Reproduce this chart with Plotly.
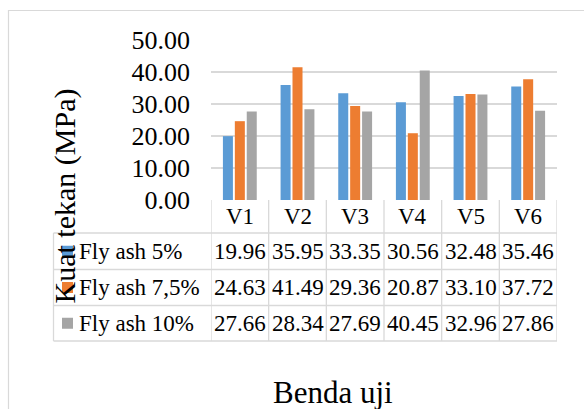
import plotly.graph_objects as go

categories = ["V1", "V2", "V3", "V4", "V5", "V6"]
series_names = ["Fly ash 5%", "Fly ash 7,5%", "Fly ash 10%"]
fly_ash_5 = [19.96, 35.95, 33.35, 30.56, 32.48, 35.46]
fly_ash_75 = [24.63, 41.49, 29.36, 20.87, 33.10, 37.72]
fly_ash_10 = [27.66, 28.34, 27.69, 40.45, 32.96, 27.86]
y_ticks = [0, 10, 20, 30, 40, 50]
colors = ["#5B9BD5", "#ED7D31", "#A5A5A5"]
series_values = [fly_ash_5, fly_ash_75, fly_ash_10]

W, H = 584, 409
ML, MR, MT, MB = 211, 27, 40, 209
PW, PH = W - ML - MR, H - MT - MB
FONT = "Liberation Serif, Times New Roman, serif"
GRID = "#D9D9D9"


def px(x):
    return (x - ML) / PW


def py(y):
    return (H - MB - y) / PH


fig = go.Figure()
for name, vals, c in zip(series_names, series_values, colors):
    fig.add_trace(go.Bar(x=categories, y=vals, name=name, marker_color=c,
                         marker_line_width=0, hoverinfo="skip"))

shapes = []
annotations = []

# outer chart border
shapes.append(dict(type="rect", xref="paper", yref="paper",
                   x0=px(8.5), x1=px(600), y0=py(420), y1=py(10.5),
                   line=dict(color=GRID, width=1.2), fillcolor="rgba(0,0,0,0)",
                   layer="below"))

# table geometry
row_bounds = [200, 233, 269.5, 305.5, 341]
left_x = 53.5
line_style = dict(color=GRID, width=1.3)
for yb in row_bounds[1:]:
    shapes.append(dict(type="line", xref="paper", yref="paper",
                       x0=px(left_x), x1=1, y0=py(yb), y1=py(yb), line=line_style))
shapes.append(dict(type="line", xref="paper", yref="paper",
                   x0=px(left_x), x1=px(left_x), y0=py(row_bounds[1]), y1=py(row_bounds[-1]),
                   line=line_style))
for i in range(len(categories) + 1):
    shapes.append(dict(type="line", xref="x", yref="paper",
                       x0=i - 0.5, x1=i - 0.5, y0=py(row_bounds[0]), y1=py(row_bounds[-1]),
                       line=line_style))

# header
for cat in categories:
    annotations.append(dict(x=cat, xref="x", yref="paper",
                            y=py((row_bounds[0] + row_bounds[1]) / 2),
                            text=cat, showarrow=False,
                            font=dict(family=FONT, size=23, color="black"),
                            xanchor="center", yanchor="middle"))

# rows
for r, (name, vals, c) in enumerate(zip(series_names, series_values, colors)):
    yc = (row_bounds[r + 1] + row_bounds[r + 2]) / 2
    shapes.append(dict(type="rect", xref="paper", yref="paper",
                       x0=px(62), x1=px(73), y0=py(yc + 5.5), y1=py(yc - 5.5),
                       fillcolor=c, line=dict(width=0)))
    annotations.append(dict(x=px(77), xref="paper", yref="paper", y=py(yc),
                            text=name, showarrow=False,
                            font=dict(family=FONT, size=23, color="black"),
                            xanchor="left", yanchor="middle"))
    for cat, v in zip(categories, vals):
        annotations.append(dict(x=cat, xref="x", yref="paper", y=py(yc),
                                text=f"{v:.2f}", showarrow=False,
                                font=dict(family=FONT, size=23, color="black"),
                                xanchor="center", yanchor="middle"))

# axis titles
annotations.append(dict(x=px(64), y=py(196.5), xref="paper", yref="paper",
                        text="Kuat tekan (MPa)", textangle=-90, showarrow=False,
                        font=dict(family=FONT, size=30, color="black"),
                        xanchor="center", yanchor="middle"))
annotations.append(dict(x=px(333), y=py(392), xref="paper", yref="paper",
                        text="Benda uji", showarrow=False,
                        font=dict(family=FONT, size=31, color="black"),
                        xanchor="center", yanchor="middle"))

fig.update_layout(
    width=W, height=H,
    margin=dict(l=ML, r=MR, t=MT, b=MB, pad=0),
    paper_bgcolor="white", plot_bgcolor="white",
    barmode="group", bargap=0.38, bargroupgap=0.16,
    showlegend=False, hovermode=False,
    font=dict(family=FONT, color="black"),
    shapes=shapes, annotations=annotations,
    xaxis=dict(range=[-0.5, 5.5], showticklabels=False, showgrid=False,
               zeroline=False, showline=False, ticks=""),
    yaxis=dict(range=[0, 50], tickvals=y_ticks, tickformat=".2f",
               showgrid=True, gridcolor=GRID, gridwidth=1.3,
               zeroline=False, showline=False, ticks="",
               ticklabelstandoff=20,
               tickfont=dict(family=FONT, size=26, color="black")),
)

fig.write_html("out.html", config={"displayModeBar": False, "staticPlot": True},
               post_script="document.body.style.margin='0';document.body.style.overflow='hidden';")
